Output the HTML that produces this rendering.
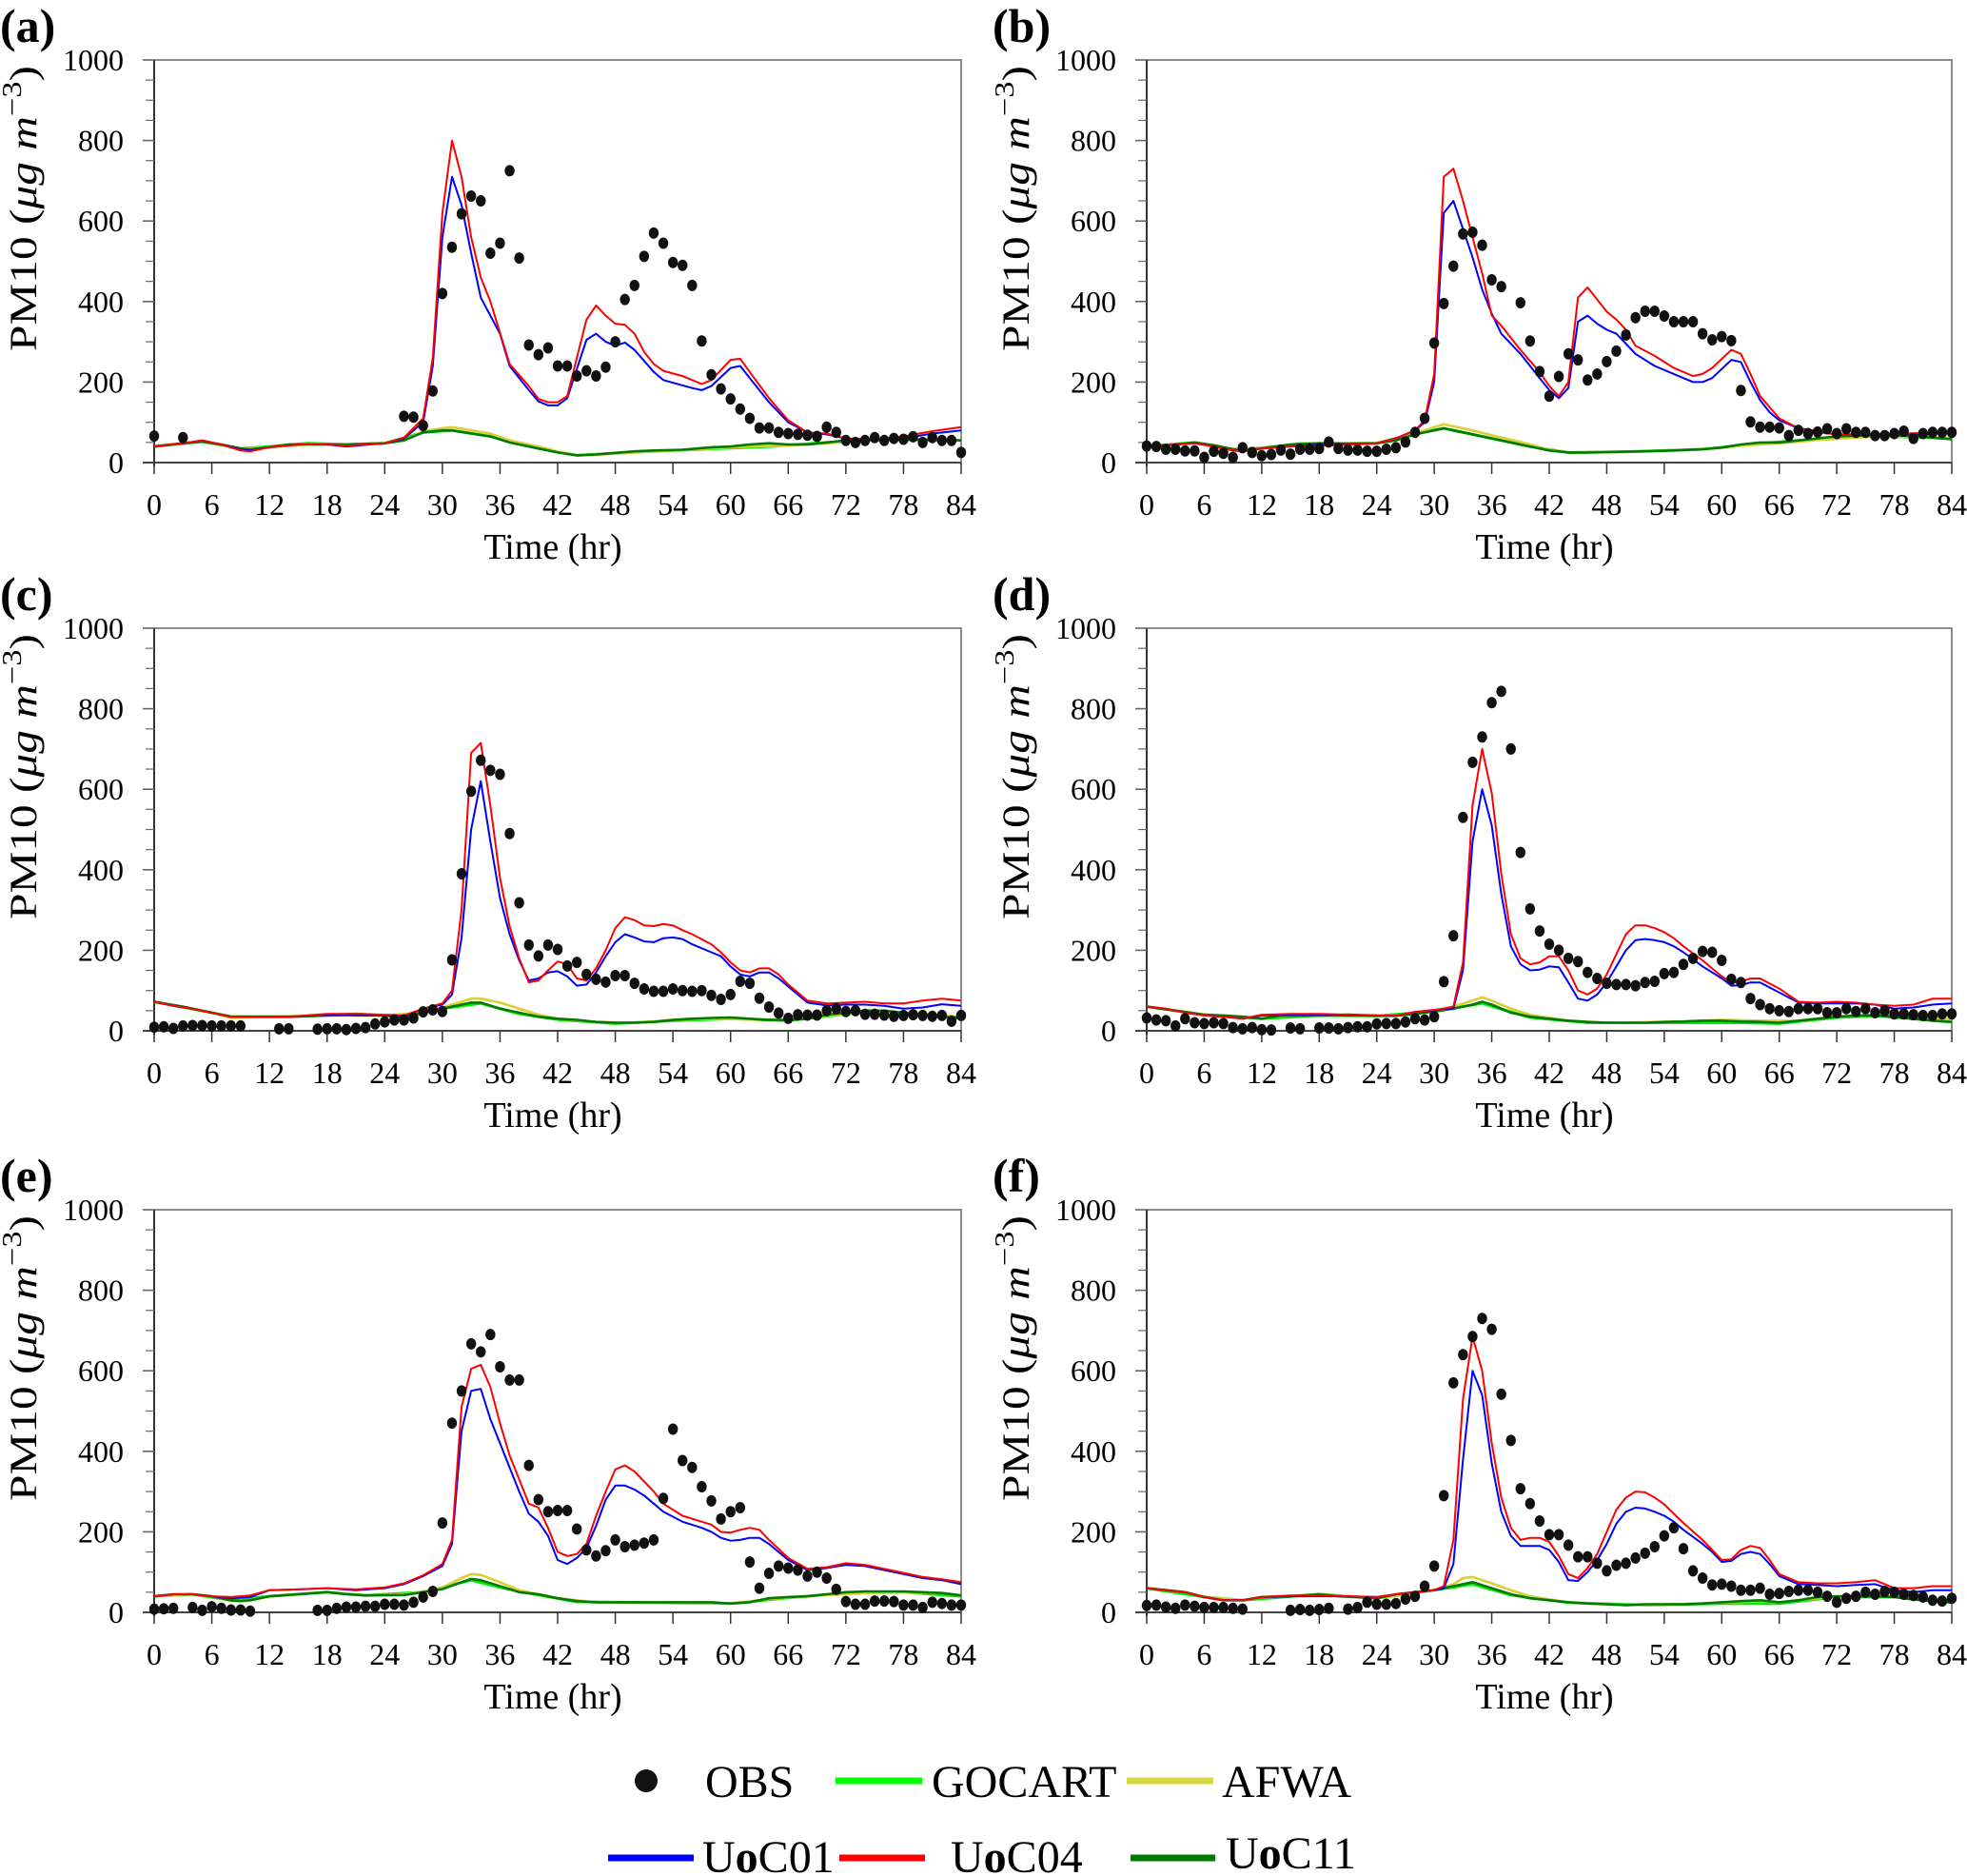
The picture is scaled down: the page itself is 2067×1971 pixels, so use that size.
<!DOCTYPE html>
<html><head><meta charset="utf-8"><style>
html,body{margin:0;padding:0;background:#fff;}
svg{display:block;}
</style></head><body>
<svg id="fig" xmlns="http://www.w3.org/2000/svg" width="2067" height="1971" viewBox="0 0 2067 1971" font-family="'Liberation Serif', serif">
<g id="legend">
  <g><circle cx="679" cy="1871" r="12" fill="#111"/><text x="741" y="1888" font-size="48">OBS</text></g>
  <g><line x1="878" y1="1871" x2="969" y2="1871" stroke="#00ff00" stroke-width="7"/><text x="979" y="1888" font-size="48">GOCART</text></g>
  <g><line x1="1184" y1="1871" x2="1275" y2="1871" stroke="#d8d840" stroke-width="7"/><text x="1284" y="1888" font-size="48">AFWA</text></g>
  <g><line x1="639" y1="1952" x2="729" y2="1952" stroke="#0000ff" stroke-width="7"/><text x="738" y="1967" font-size="48">U<tspan font-weight="bold">o</tspan>C01</text></g>
  <g><line x1="882" y1="1952" x2="972" y2="1952" stroke="#ff0000" stroke-width="7"/><text x="999" y="1967" font-size="48">U<tspan font-weight="bold">o</tspan>C04</text></g>
  <g><line x1="1188" y1="1952" x2="1277" y2="1952" stroke="#007a00" stroke-width="7"/><text x="1288" y="1963" font-size="48">U<tspan font-weight="bold">o</tspan>C11</text></g>
</g>
</svg>
<script>
const _ = null;
const xTicks = [0,6,12,18,24,30,36,42,48,54,60,66,72,78,84];
const yTicks = [0,200,400,600,800,1000];
const panelLabels = ['(a)','(b)','(c)','(d)','(e)','(f)'];

// OBS hourly values (hour = index), null = missing
const obs_a = [66,_,_,62,_,_,_,_,_,_,_,_,_,_,_,_,_,_,_,_,_,_,_,_,_,_,115,113,92,178,420,535,618,662,650,520,545,725,508,292,268,285,240,240,215,228,215,237,300,405,440,512,570,545,497,490,440,302,218,183,158,133,110,86,86,75,72,70,68,65,88,75,55,50,55,62,55,60,58,64,50,62,55,55,25];
const obs_b = [41,40,33,33,29,29,13,28,23,13,37,25,17,20,31,21,33,33,35,51,35,31,31,28,28,33,37,51,75,110,297,395,488,568,572,540,454,437,_,397,302,226,165,214,270,255,205,220,251,277,317,360,376,376,364,350,350,350,320,305,313,303,179,101,88,88,86,67,80,72,76,84,72,84,75,75,67,67,72,78,60,72,75,75,75];
const obs_c = [9,10,6,12,13,13,12,12,12,12,_,_,_,5,5,_,_,4,5,5,3,6,8,17,22,27,27,32,47,52,48,176,390,595,672,647,637,490,318,213,186,213,202,161,170,140,128,121,137,137,118,104,98,98,104,100,98,100,88,78,90,123,118,81,59,44,31,40,39,39,50,55,48,50,41,41,39,36,38,40,38,36,38,24,38];
const obs_d = [32,27,25,12,30,20,18,20,18,8,5,8,3,2,_,7,5,_,7,7,5,8,10,10,17,18,18,22,30,27,35,122,236,530,667,730,815,843,700,443,303,248,215,200,180,172,145,130,118,115,115,112,120,123,142,145,165,180,197,195,175,128,120,80,65,55,50,48,55,55,55,45,45,55,48,55,45,50,42,42,40,38,38,42,42];
const obs_e = [8,9,10,_,12,5,14,10,6,6,3,_,_,_,_,_,_,5,5,10,13,13,15,15,20,20,18,25,38,52,222,470,550,667,647,690,610,577,577,365,280,250,253,253,207,155,140,153,180,163,167,172,180,283,455,377,360,312,277,232,250,260,125,60,97,115,110,105,90,100,85,57,27,20,20,28,28,27,18,18,12,25,22,18,18];
const obs_f = [17,18,13,10,18,15,12,12,12,10,8,_,_,_,_,5,7,5,7,10,_,8,12,25,20,20,22,33,40,65,115,290,570,640,685,730,703,542,427,307,270,227,193,193,167,138,138,122,103,117,122,135,147,163,190,210,158,103,85,68,70,65,55,55,60,45,47,52,55,55,50,40,25,35,40,50,45,52,50,45,42,38,30,28,35];

// Model series: [hour, value]
const uoc01_a = [[0,40],[3,48],[5,55],[7,45],[9,32],[10,30],[12,38],[15,45],[18,45],[20,40],[24,48],[26,60],[28,100],[29,240],[30,560],[31,710],[32,640],[33,520],[34,410],[36,320],[37,240],[39,180],[40,152],[41,142],[42,142],[43,160],[45,305],[46,320],[47,300],[48,290],[49,298],[50,280],[52,225],[53,205],[56,185],[57,180],[58,190],[60,235],[61,240],[62,210],[64,150],[66,100],[68,75],[70,70],[72,60],[75,55],[78,60],[81,72],[84,80]];
const uoc04_a = [[0,40],[3,48],[5,55],[7,45],[9,30],[10,28],[12,38],[15,45],[18,45],[20,42],[24,48],[26,62],[28,110],[29,260],[30,620],[31,800],[32,710],[33,560],[34,460],[35,400],[37,245],[39,190],[40,158],[41,150],[42,150],[43,165],[45,355],[46,390],[47,365],[48,345],[49,342],[50,320],[51,275],[52,245],[53,228],[55,215],[57,195],[58,205],[60,255],[61,258],[62,225],[64,160],[66,105],[68,75],[70,72],[72,60],[75,58],[78,65],[81,78],[84,88]];
const uoc11_a = [[0,40],[3,48],[5,52],[7,45],[9,35],[10,33],[12,38],[14,45],[16,45],[18,45],[20,45],[24,48],[26,55],[28,75],[30,80],[31,80],[33,72],[35,65],[37,50],[40,35],[42,25],[44,18],[46,20],[48,24],[50,28],[52,30],[55,32],[58,38],[60,40],[62,45],[64,48],[66,45],[68,45],[70,50],[72,55],[76,58],[80,57],[84,55]];
const afwa_a = [[0,40],[3,48],[5,52],[7,45],[9,35],[12,38],[16,45],[20,45],[24,48],[26,55],[28,78],[30,85],[31,88],[33,80],[35,72],[37,55],[40,40],[42,28],[44,18],[48,22],[52,28],[58,35],[62,40],[66,42],[70,48],[74,55],[80,57],[84,55]];
const gocart_a = [[0,40],[5,52],[9,35],[12,40],[16,48],[20,45],[24,48],[28,75],[31,80],[35,65],[40,35],[44,18],[50,26],[58,34],[64,40],[70,50],[76,58],[84,55]];

const uoc01_b = [[0,40],[3,45],[5,48],[7,40],[9,30],[10,28],[12,35],[15,40],[18,45],[20,45],[24,48],[26,60],[28,80],[29,100],[30,200],[31,620],[32,650],[33,580],[34,510],[35,430],[36,370],[37,320],[39,270],[41,210],[42,180],[43,160],[44,185],[45,350],[46,365],[47,345],[48,330],[49,320],[50,295],[51,270],[53,240],[55,220],[57,200],[58,200],[59,210],[61,255],[62,250],[63,200],[64,155],[65,125],[66,105],[68,85],[70,78],[72,70],[75,70],[78,70],[81,70],[84,75]];
const uoc04_b = [[0,40],[3,45],[5,48],[7,40],[9,30],[10,28],[12,35],[15,40],[18,42],[20,43],[24,48],[26,60],[28,80],[29,105],[30,220],[31,710],[32,730],[33,650],[34,560],[35,470],[36,365],[37,340],[39,280],[41,225],[42,190],[43,165],[44,200],[45,410],[46,435],[47,405],[48,375],[49,355],[50,330],[51,290],[53,265],[55,235],[57,215],[58,220],[59,235],[61,280],[62,270],[63,220],[64,165],[66,110],[68,85],[70,75],[72,70],[75,70],[84,75]];
const uoc11_b = [[0,40],[3,45],[5,50],[7,43],[9,33],[10,30],[12,35],[15,45],[18,48],[21,47],[24,48],[26,55],[28,70],[30,80],[31,85],[32,80],[34,70],[36,60],[38,50],[40,40],[42,30],[44,25],[46,25],[48,26],[50,27],[52,28],[55,30],[58,33],[60,37],[62,45],[64,50],[66,50],[68,55],[70,60],[72,65],[76,68],[80,66],[84,58]];
const afwa_b = [[0,40],[3,45],[5,50],[7,43],[9,33],[12,35],[15,45],[18,48],[24,48],[26,55],[28,72],[30,88],[31,95],[32,90],[34,80],[36,68],[38,57],[40,45],[42,32],[44,25],[48,26],[52,28],[58,33],[62,42],[66,48],[70,56],[76,65],[84,62]];
const gocart_b = [[0,40],[5,50],[9,33],[12,36],[16,47],[21,47],[24,48],[28,72],[31,85],[36,60],[40,40],[44,25],[50,27],[58,33],[64,48],[70,58],[76,66],[84,60]];

const uoc01_c = [[0,72],[2,62],[4,55],[6,45],[8,35],[12,35],[14,35],[18,40],[21,38],[24,38],[26,35],[28,55],[30,65],[31,90],[32,230],[33,500],[34,620],[35,470],[36,330],[37,240],[38,175],[39,125],[40,130],[41,145],[42,148],[43,135],[44,112],[45,115],[46,145],[47,185],[48,220],[49,240],[50,232],[51,222],[52,220],[53,230],[54,232],[55,228],[56,215],[58,195],[59,185],[60,160],[61,140],[62,135],[63,145],[64,145],[65,130],[66,110],[68,70],[70,63],[72,65],[74,65],[76,62],[78,55],[80,58],[82,66],[84,62]];
const uoc04_c = [[0,72],[2,62],[4,55],[6,45],[8,35],[12,35],[14,35],[18,42],[21,42],[24,40],[26,38],[28,55],[30,68],[31,100],[32,300],[33,690],[34,715],[35,560],[36,380],[37,260],[38,180],[39,120],[40,125],[41,150],[42,172],[43,165],[44,130],[45,125],[46,155],[47,200],[48,255],[49,282],[50,275],[51,262],[52,260],[53,265],[54,262],[55,250],[56,240],[58,215],[59,195],[60,170],[61,150],[62,145],[63,155],[64,155],[65,140],[66,115],[68,75],[70,68],[72,70],[74,72],[76,68],[78,68],[80,75],[82,80],[84,75]];
const uoc11_c = [[0,72],[3,60],[6,45],[8,35],[12,35],[14,35],[18,38],[21,40],[24,38],[26,35],[28,45],[30,55],[32,65],[33,70],[34,70],[36,55],[38,45],[40,35],[42,30],[44,27],[46,22],[48,20],[50,20],[52,22],[54,27],[56,30],[58,32],[60,33],[62,30],[64,27],[66,27],[68,30],[70,40],[72,45],[74,50],[76,50],[78,45],[80,40],[82,35],[84,32]];
const afwa_c = [[0,72],[3,60],[6,45],[8,32],[12,35],[18,38],[24,38],[28,45],[30,58],[32,72],[33,80],[34,80],[36,70],[38,55],[40,40],[42,30],[46,22],[50,20],[54,27],[58,30],[62,28],[66,27],[70,38],[74,48],[78,45],[84,35]];
const gocart_c = [[0,72],[6,45],[8,35],[14,35],[21,42],[26,35],[30,55],[34,68],[38,42],[42,28],[48,18],[54,25],[60,30],[66,25],[72,42],[76,48],[84,30]];

const uoc01_d = [[0,60],[2,55],[4,45],[6,38],[8,35],[10,30],[12,38],[15,40],[18,40],[21,38],[24,38],[26,37],[28,47],[30,50],[31,55],[32,55],[33,150],[34,470],[35,600],[36,510],[37,340],[38,210],[39,165],[40,150],[41,152],[42,160],[43,158],[44,120],[45,80],[46,75],[47,90],[48,120],[49,160],[50,200],[51,225],[52,228],[53,225],[54,220],[55,210],[56,195],[58,160],[60,130],[61,112],[62,113],[63,120],[64,120],[66,95],[68,70],[70,68],[72,68],[74,68],[76,65],[78,55],[80,58],[82,65],[84,68]];
const uoc04_d = [[0,60],[2,55],[4,45],[6,38],[8,35],[10,30],[12,40],[15,42],[18,42],[21,40],[24,38],[26,37],[28,47],[30,52],[31,55],[32,60],[33,170],[34,560],[35,700],[36,590],[37,390],[38,240],[39,180],[40,165],[41,170],[42,185],[43,185],[44,150],[45,100],[46,90],[47,105],[48,140],[49,190],[50,240],[51,262],[52,262],[53,255],[54,245],[55,230],[56,210],[58,175],[60,135],[61,120],[62,122],[63,130],[64,130],[66,105],[68,72],[70,70],[72,72],[74,70],[76,65],[78,62],[80,65],[82,80],[84,80]];
const uoc11_d = [[0,60],[3,50],[6,40],[8,38],[10,35],[12,30],[14,38],[18,38],[21,40],[24,37],[26,37],[28,42],[30,48],[32,55],[34,65],[35,72],[36,65],[38,45],[40,35],[42,30],[44,25],[46,22],[48,20],[50,20],[52,20],[54,22],[56,23],[58,25],[60,25],[62,23],[64,22],[66,20],[68,25],[70,30],[72,35],[74,38],[76,38],[78,35],[80,30],[82,25],[84,22]];
const afwa_d = [[0,60],[3,50],[6,40],[10,35],[12,30],[14,38],[21,40],[26,37],[30,50],[32,60],[34,75],[35,83],[36,75],[38,55],[40,40],[44,25],[48,20],[54,22],[60,27],[64,25],[68,25],[72,35],[76,40],[80,35],[84,28]];
const gocart_d = [[0,60],[6,40],[12,30],[18,38],[24,37],[30,48],[35,68],[40,33],[46,20],[54,20],[62,20],[66,18],[72,33],[76,37],[84,22]];

const uoc01_e = [[0,40],[2,45],[4,45],[6,40],[8,35],[10,38],[12,55],[15,57],[18,60],[21,55],[24,60],[26,70],[28,90],[30,115],[31,170],[32,450],[33,550],[34,555],[35,480],[36,420],[37,360],[38,300],[39,245],[40,225],[41,190],[42,130],[43,120],[44,135],[45,160],[46,215],[47,280],[48,315],[49,315],[50,305],[51,290],[52,270],[53,250],[55,225],[57,210],[58,200],[59,185],[60,178],[61,180],[62,185],[63,185],[64,170],[66,130],[68,105],[70,110],[72,118],[74,115],[76,105],[78,95],[80,85],[82,80],[84,70]];
const uoc04_e = [[0,40],[2,45],[4,45],[6,40],[8,38],[10,42],[12,55],[15,57],[18,60],[21,57],[24,62],[26,72],[28,92],[30,120],[31,180],[32,510],[33,605],[34,615],[35,560],[36,470],[37,390],[38,330],[39,270],[40,260],[41,210],[42,150],[43,140],[44,145],[45,170],[46,240],[47,300],[48,355],[49,365],[50,350],[51,325],[52,300],[53,270],[55,240],[57,225],[58,218],[59,200],[60,198],[61,205],[62,210],[63,205],[64,180],[66,135],[68,108],[70,112],[72,122],[74,118],[76,108],[78,98],[80,88],[82,82],[84,75]];
const uoc11_e = [[0,40],[2,45],[4,45],[6,40],[8,30],[9,28],[10,30],[12,40],[15,45],[18,50],[20,45],[22,42],[26,43],[28,50],[30,58],[32,75],[33,83],[34,80],[36,65],[38,50],[40,45],[42,35],[44,28],[46,25],[48,25],[50,25],[52,25],[54,25],[56,25],[58,25],[60,22],[62,25],[64,35],[66,38],[68,40],[70,45],[72,50],[74,52],[76,52],[78,52],[80,50],[82,48],[84,42]];
const afwa_e = [[0,40],[4,45],[6,40],[8,28],[10,30],[12,40],[18,50],[22,42],[26,45],[28,52],[30,62],[32,85],[33,95],[34,93],[36,75],[38,55],[40,45],[42,35],[46,25],[54,25],[60,22],[64,33],[70,43],[76,50],[82,48],[84,42]];
const gocart_e = [[0,40],[4,45],[8,30],[12,40],[18,50],[22,42],[28,50],[33,80],[36,62],[40,43],[44,26],[52,24],[60,22],[66,36],[72,48],[78,50],[84,40]];

const uoc01_f = [[0,60],[2,55],[4,50],[6,38],[8,30],[10,30],[12,38],[15,40],[18,40],[21,40],[24,38],[26,45],[28,50],[30,55],[31,60],[32,120],[33,380],[34,600],[35,540],[36,370],[37,250],[38,190],[39,165],[40,165],[41,165],[42,155],[43,125],[44,80],[45,78],[46,100],[47,130],[48,170],[49,220],[50,250],[51,260],[52,258],[53,250],[54,240],[55,225],[56,205],[58,170],[59,150],[60,125],[61,128],[62,145],[63,150],[64,145],[65,120],[66,90],[68,70],[70,68],[72,65],[74,68],[76,70],[78,55],[80,50],[82,55],[84,55]];
const uoc04_f = [[0,60],[2,55],[4,50],[6,38],[8,30],[10,30],[12,38],[15,42],[18,42],[21,40],[24,38],[26,45],[28,50],[30,55],[31,65],[32,180],[33,530],[34,685],[35,600],[36,420],[37,285],[38,210],[39,180],[40,185],[41,185],[42,175],[43,140],[44,95],[45,85],[46,110],[47,145],[48,200],[49,255],[50,285],[51,300],[52,298],[53,285],[54,268],[55,245],[56,222],[58,180],[59,155],[60,130],[61,132],[62,155],[63,165],[64,160],[65,130],[66,95],[68,75],[70,72],[72,72],[74,75],[76,80],[78,60],[80,60],[82,65],[84,65]];
const uoc11_f = [[0,60],[2,55],[4,50],[6,38],[8,30],[10,30],[12,38],[15,40],[18,45],[20,40],[24,35],[26,45],[28,50],[30,55],[32,65],[34,75],[36,60],[38,45],[40,35],[42,30],[44,25],[46,22],[48,20],[50,18],[52,20],[54,20],[56,20],[58,22],[60,25],[62,28],[64,30],[66,25],[68,30],[70,38],[72,40],[74,40],[76,40],[78,38],[80,32],[82,28],[84,25]];
const afwa_f = [[0,60],[4,50],[6,38],[10,30],[12,38],[18,45],[24,35],[28,50],[30,55],[32,70],[33,85],[34,88],[36,72],[38,55],[40,40],[44,25],[50,18],[58,22],[64,28],[66,25],[70,35],[76,42],[80,35],[84,25]];
const gocart_f = [[0,60],[6,38],[10,30],[18,45],[24,35],[30,55],[34,70],[38,43],[44,24],[52,18],[60,22],[66,22],[72,38],[78,38],[84,24]];

const panels = [
  {id:'a', left:162, right:1010, top:63,   bottom:486,  obs:obs_a, uoc01:uoc01_a, uoc04:uoc04_a, uoc11:uoc11_a, afwa:afwa_a, gocart:gocart_a},
  {id:'b', left:1205,right:2051, top:63,   bottom:486,  obs:obs_b, uoc01:uoc01_b, uoc04:uoc04_b, uoc11:uoc11_b, afwa:afwa_b, gocart:gocart_b},
  {id:'c', left:162, right:1010, top:660,  bottom:1083, obs:obs_c, uoc01:uoc01_c, uoc04:uoc04_c, uoc11:uoc11_c, afwa:afwa_c, gocart:gocart_c},
  {id:'d', left:1205,right:2051, top:660,  bottom:1083, obs:obs_d, uoc01:uoc01_d, uoc04:uoc04_d, uoc11:uoc11_d, afwa:afwa_d, gocart:gocart_d},
  {id:'e', left:162, right:1010, top:1271, bottom:1694, obs:obs_e, uoc01:uoc01_e, uoc04:uoc04_e, uoc11:uoc11_e, afwa:afwa_e, gocart:gocart_e},
  {id:'f', left:1205,right:2051, top:1271, bottom:1694, obs:obs_f, uoc01:uoc01_f, uoc04:uoc04_f, uoc11:uoc11_f, afwa:afwa_f, gocart:gocart_f}
];

const NS = 'http://www.w3.org/2000/svg';
const svg = document.getElementById('fig');
function mk(tag, attrs, parent){
  const el = document.createElementNS(NS, tag);
  for (const k in attrs) el.setAttribute(k, attrs[k]);
  parent.appendChild(el);
  return el;
}

panels.forEach((p, pi) => {
  const xs = h => p.left + (h/84)*(p.right - p.left);
  const ys = v => p.bottom - (v/1000)*(p.bottom - p.top);
  const g = mk('g', {}, svg);
  
  

  const lab = mk('text', {x: p.left - 162, y: p.top - 19, 'font-size': 50, 'font-weight': 'bold'}, g);
  lab.textContent = panelLabels[pi];
  
  

  const fr = mk('rect', {x: p.left, y: p.top, width: p.right - p.left, height: p.bottom - p.top, fill: 'none', stroke: '#666', 'stroke-width': 1.5}, g);
  
  

  const ya = mk('g', {}, g);
  
  
  mk('line', {x1: p.left, y1: p.top, x2: p.left, y2: p.bottom + 4, stroke: '#333', 'stroke-width': 2}, ya);
  for (let v = 0; v <= 1000; v += 50) {
    const major = v % 200 === 0;
    mk('line', {x1: p.left - (major ? 12 : 9), y1: ys(v), x2: p.left, y2: ys(v), stroke: '#666', 'stroke-width': major ? 1.6 : 1.2}, ya);
  }
  yTicks.forEach(v => {
    const t = mk('text', {x: p.left - 32, y: ys(v) + 11, 'font-size': 32, 'text-anchor': 'end'}, ya);
    t.textContent = String(v);
    
    
  });
  const yt = mk('text', {transform: `translate(${p.left - 124},${p.top + 156}) rotate(-90)`, 'font-size': 40, 'text-anchor': 'middle', textLength: 300, lengthAdjust: 'spacingAndGlyphs'}, ya);
  
  
  yt.innerHTML = 'PM10 (<tspan font-style="italic">μg m</tspan><tspan font-size="28" dy="-16">−3</tspan><tspan dy="16">)</tspan>';

  const xa = mk('g', {}, g);
  
  
  mk('line', {x1: p.left - 12, y1: p.bottom, x2: p.right, y2: p.bottom, stroke: '#444', 'stroke-width': 2}, xa);
  xTicks.forEach(h => {
    mk('line', {x1: xs(h), y1: p.bottom, x2: xs(h), y2: p.bottom + 12, stroke: '#333', 'stroke-width': 1.5}, xa);
    const t = mk('text', {x: xs(h), y: p.bottom + 55, 'font-size': 32, 'text-anchor': 'middle'}, xa);
    t.textContent = String(h);
    
    
  });
  const xt = mk('text', {x: (p.left + p.right)/2 - 5, y: p.bottom + 101, 'font-size': 38, 'text-anchor': 'middle'}, xa);
  xt.textContent = 'Time (hr)';
  
  

  const lines = [
    ['gocart', p.gocart, '#00ee00', 3],
    ['afwa', p.afwa, '#d8d030', 2.6],
    ['uoc11', p.uoc11, '#007a00', 2.6],
    ['uoc01', p.uoc01, '#0000ff', 2],
    ['uoc04', p.uoc04, '#ff0000', 2]
  ];
  lines.forEach(([name, data, col, w]) => {
    const pts = data.map(d => xs(d[0]).toFixed(1) + ',' + ys(d[1]).toFixed(1)).join(' ');
    const pl = mk('polyline', {points: pts, fill: 'none', stroke: col, 'stroke-width': w, 'stroke-linejoin': 'round'}, g);
    
    
  });

  const og = mk('g', {}, g);
  
  
  p.obs.forEach((v, h) => {
    if (v === null) return;
    const c = mk('ellipse', {cx: xs(h), cy: ys(v), rx: 5.2, ry: 6, fill: '#111'}, og);
    
    
  });
});
</script>
</body></html>
